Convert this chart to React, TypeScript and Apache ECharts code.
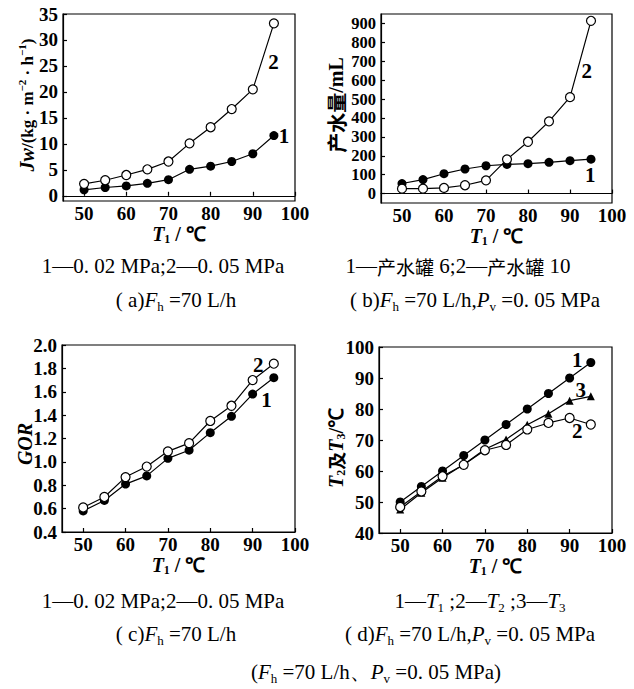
import React, { useEffect, useRef } from 'react';
import * as echarts from 'echarts';

const T1 = [50, 55, 60, 65, 70, 75, 80, 85, 90, 95];
const jw1 = [1.15, 1.6, 1.9, 2.4, 3.1, 5.1, 5.7, 6.6, 8.1, 11.6];
const jw2 = [2.3, 3.0, 4.0, 5.1, 6.6, 10.1, 13.2, 16.7, 20.5, 33.2];
const water6 = [53, 74, 105, 130, 147, 154, 158, 165, 174, 182];
const water10 = [26, 26, 30, 44, 70, 181, 274, 382, 510, 914];
const gor1 = [0.58, 0.67, 0.81, 0.88, 1.03, 1.1, 1.25, 1.39, 1.58, 1.72];
const gor2 = [0.61, 0.7, 0.87, 0.96, 1.09, 1.16, 1.35, 1.48, 1.7, 1.84];
const tT1 = [50, 55, 60, 65, 70, 75, 80, 85, 90, 95];
const tT2 = [48.4, 53.4, 58.3, 62.0, 66.7, 68.4, 73.4, 75.5, 77.1, 75.0];
const tT3 = [47.6, 53.0, 57.8, 62.1, 67.0, 70.2, 74.9, 78.5, 82.7, 84.1];

const xTicks = [50, 60, 70, 80, 90, 100];
const jwTicks = [0, 5, 10, 15, 20, 25, 30, 35];
const waterTicks = [0, 100, 200, 300, 400, 500, 600, 700, 800, 900];
const gorTicks = [0.4, 0.6, 0.8, 1.0, 1.2, 1.4, 1.6, 1.8, 2.0];
const tTicks = [40, 50, 60, 70, 80, 90, 100];

const SERIF = '"Liberation Serif", "Times New Roman", serif';
const CJK = '"Noto Sans CJK SC", sans-serif';

const richName = {
  b: { fontFamily: SERIF, fontWeight: 'bold', fontSize: 17, fill: '#000', color: '#000', lineHeight: 22 },
  b2: { fontFamily: SERIF, fontWeight: 'bold', fontSize: 20, fill: '#000', color: '#000', lineHeight: 22 },
  bi: { fontFamily: SERIF, fontWeight: 'bold', fontStyle: 'italic', fontSize: 20, fill: '#000', color: '#000', lineHeight: 22 },
  sup: { fontFamily: SERIF, fontWeight: 'bold', fontSize: 11, fill: '#000', color: '#000', verticalAlign: 'top', lineHeight: 22 },
  sub: { fontFamily: SERIF, fontWeight: 'bold', fontSize: 12, fill: '#000', color: '#000', verticalAlign: 'bottom', lineHeight: 22 },
  cn: { fontFamily: CJK, fontWeight: 'bold', fontSize: 18, fill: '#000', color: '#000', lineHeight: 22 },
  cn2: { fontFamily: CJK, fontWeight: 'bold', fontSize: 20, fill: '#000', color: '#000', lineHeight: 22 },
};

const richCap = {
  n: { fontFamily: SERIF, fontSize: 21, fill: '#000', lineHeight: 26 },
  i: { fontFamily: SERIF, fontStyle: 'italic', fontSize: 21, fill: '#000', lineHeight: 26 },
  sub: { fontFamily: SERIF, fontSize: 13, fill: '#000', verticalAlign: 'bottom', lineHeight: 26 },
  cn: { fontFamily: CJK, fontSize: 19, fill: '#000', lineHeight: 26 },
};

function pairs(xs: number[], ys: number[]) {
  return xs.map((x, i) => [x, ys[i]]);
}

export default function App() {
  const ref = useRef<HTMLDivElement>(null);
  useEffect(() => {
    document.body.style.margin = '0';
    const chart = echarts.init(ref.current!, undefined, { renderer: 'svg' });
    const axisLine = { show: true, lineStyle: { color: '#000', width: 1.2 } };
    const tickStyle = { color: '#000', width: 1.2 };
    const labelStyle = { fontFamily: SERIF, fontWeight: 'bold', fontSize: 19, color: '#000', lineHeight: 17 };
    const xName = '{bi|T}{sub|1}{b2| / ℃}';

    const mkX = (gridIndex: number, nameGap: number) => ({
      type: 'value', gridIndex, min: 45, max: 100,
      axisLine, splitLine: { show: false },
      axisTick: { show: true, inside: true, length: 4, customValues: xTicks, lineStyle: tickStyle },
      axisLabel: { ...labelStyle, margin: 4, customValues: xTicks, formatter: (v: number) => String(v) },
      name: xName, nameLocation: 'middle', nameGap,
      nameTextStyle: { rich: richName },
    });
    const mkY = (gridIndex: number, min: number, max: number, ticks: number[], fmt: (v: number) => string, fontSize = 19) => ({
      type: 'value', gridIndex, min, max,
      axisLine, splitLine: { show: false },
      axisTick: { show: true, inside: true, length: 4, customValues: ticks, lineStyle: tickStyle },
      axisLabel: { ...labelStyle, fontSize, lineHeight: Math.min(17, fontSize), margin: 5, customValues: ticks, formatter: fmt },
    });

    const lineStyle = { color: '#000', width: 1.2 };
    const filled = (name: string, xi: number, data: number[][], symbol = 'circle', size = 9) => ({
      type: 'line', name, xAxisIndex: xi, yAxisIndex: xi, data,
      symbol, symbolSize: size, showSymbol: true,
      lineStyle, itemStyle: { color: '#000' }, z: 3,
    });
    const open = (name: string, xi: number, data: number[][]) => ({
      type: 'line', name, xAxisIndex: xi, yAxisIndex: xi, data,
      symbol: 'circle', symbolSize: 9, showSymbol: true,
      lineStyle, itemStyle: { color: '#fff', borderColor: '#000', borderWidth: 1.2 }, z: 4,
    });
    const tag = (text: string, xi: number, x: number, y: number) => ({
      type: 'scatter', xAxisIndex: xi, yAxisIndex: xi, data: [[x, y]],
      symbolSize: 0, silent: true, z: 5,
      itemStyle: { color: '#000' },
      label: {
        show: true, position: 'inside', formatter: text, fontFamily: SERIF, fontWeight: 'bold',
        fontSize: 21, color: '#000', opacity: 1, textBorderWidth: 0, textBorderColor: 'none',
      },
    });

    const grids = [
      { left: 63, top: 14, width: 232, height: 187 },
      { left: 381, top: 14, width: 231, height: 189 },
      { left: 62, top: 345, width: 233, height: 187 },
      { left: 379, top: 347, width: 233, height: 186 },
    ].map((g) => ({ ...g, show: true, borderColor: '#000', borderWidth: 1.2, backgroundColor: 'transparent' }));

    const cap = (x: number, y: number, text: string) => ({
      type: 'text', x, y,
      style: { text, rich: richCap, align: 'center', verticalAlign: 'middle', fill: '#000', font: `21px ${SERIF}` },
    });
    const yName = (x: number, y: number, text: string) => ({
      type: 'text', x, y, rotation: Math.PI / 2,
      style: { text, rich: richName, align: 'center', verticalAlign: 'middle', fill: '#000', font: `bold 18px ${SERIF}` },
    });

    chart.setOption({
      animation: false,
      backgroundColor: '#fff',
      grid: grids,
      xAxis: [mkX(0, 18), mkX(1, 18), mkX(2, 20), mkX(3, 20)],
      yAxis: [
        mkY(0, -1, 35, jwTicks, (v) => String(v)),
        mkY(1, -50, 950, waterTicks, (v) => String(v), 16.5),
        mkY(2, 0.4, 2.0, gorTicks, (v) => v.toFixed(1)),
        mkY(3, 40, 100, tTicks, (v) => String(v)),
      ],
      series: [
        filled('1', 0, pairs(T1, jw1)),
        open('2', 0, pairs(T1, jw2)),
        tag('2', 0, 94.9, 25.8),
        tag('1', 0, 97.4, 11.5),
        filled('1', 1, pairs(T1, water6)),
        open('2', 1, pairs(T1, water10)),
        tag('2', 1, 94.0, 646),
        tag('1', 1, 94.8, 98),
        filled('1', 2, pairs(T1, gor1)),
        open('2', 2, pairs(T1, gor2)),
        tag('2', 2, 91.3, 1.83),
        tag('1', 2, 93.3, 1.53),
        filled('T1', 3, pairs(T1, tT1)),
        filled('T3', 3, pairs(T1, tT3), 'triangle', 8),
        open('T2', 3, pairs(T1, tT2)),
        tag('1', 3, 91.8, 95.9),
        tag('3', 3, 92.6, 86.2),
        tag('2', 3, 91.8, 72.8),
      ],
      graphic: [
        yName(27, 105, '{bi|Jw}{b|/(kg · m}{sup|−2}{b| · h}{sup|−1}{b|)}'),
        yName(336, 105, '{cn2|产水量}{b2|/mL}'),
        yName(25, 444, '{bi|GOR}'),
        yName(336, 448, '{bi|T}{sub|2}{cn|及}{bi|T}{sub|3}{b2|/℃}'),
        cap(163, 266, '{n|1—0. 02 MPa;2—0. 05 MPa}'),
        cap(176, 300, '{n|( a)}{i|F}{sub|h}{n| =70 L/h}'),
        cap(458, 266, '{n|1—}{cn|产水罐}{n| 6;2—}{cn|产水罐}{n| 10}'),
        cap(475, 300, '{n|( b)}{i|F}{sub|h}{n| =70 L/h,}{i|P}{sub|v}{n| =0. 05 MPa}'),
        cap(163, 601, '{n|1—0. 02 MPa;2—0. 05 MPa}'),
        cap(176, 634, '{n|( c)}{i|F}{sub|h}{n| =70 L/h}'),
        cap(480, 601, '{n|1—}{i|T}{sub|1}{n| ;2—}{i|T}{sub|2}{n| ;3—}{i|T}{sub|3}'),
        cap(470, 634, '{n|( d)}{i|F}{sub|h}{n| =70 L/h,}{i|P}{sub|v}{n| =0. 05 MPa}'),
        cap(376, 672, '{n|(}{i|F}{sub|h}{n| =70 L/h、}{i|P}{sub|v}{n| =0. 05 MPa)}'),
      ],
    });
    return () => chart.dispose();
  }, []);
  return <div ref={ref} style={{ position: 'fixed', left: 0, top: 0, width: 634, height: 689, background: '#fff' }} />;
}
